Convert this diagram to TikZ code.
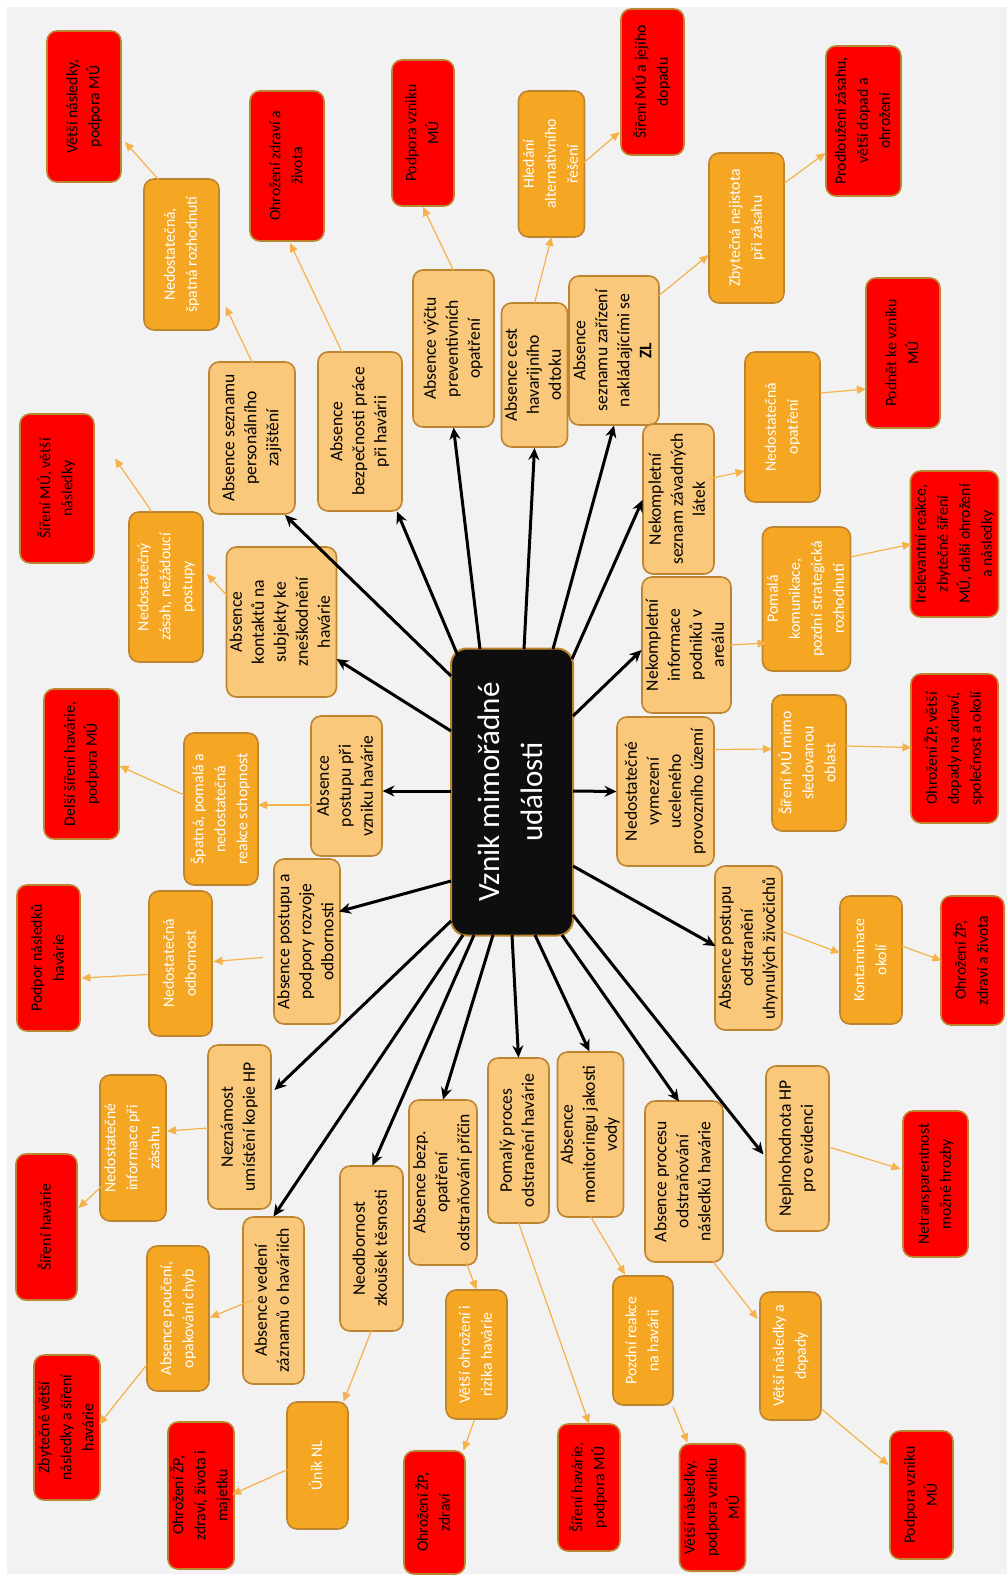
\documentclass[tikz,border=0pt]{standalone}
\usepackage{fontspec}
\setmainfont{Carlito}
\usetikzlibrary{calc,arrows.meta}
\definecolor{bg}{HTML}{F2F2F2}
\definecolor{lfill}{HTML}{FAC87A}
\definecolor{ofill}{HTML}{F5A623}
\definecolor{rfill}{HTML}{FF0000}
\definecolor{bord}{HTML}{BE8530}
\definecolor{oline}{HTML}{F6B24A}
\definecolor{cfill}{HTML}{0E0E0E}
\newcommand{\vt}[1]{\rotatebox{90}{\begin{tabular}{@{}c@{}}#1\end{tabular}}}
\newcommand{\NB}[6]{\node[#1, sz={#4}{#5}] (#2) at #3 {\vt{#6}};}
\newcommand{\con}[5]{\draw[#1] ($(#2)+#3$) -- ($(#4)+#5$);}
\begin{document}
\begin{tikzpicture}[x=0.5pt,y=-0.5pt,
 sz/.style 2 args={minimum width=#1*0.5pt, minimum height=#2*0.5pt},
 base/.style={draw=bord, line width=0.8pt, rounded corners=5pt, inner sep=0pt, outer sep=0pt},
 lbox/.style={base, fill=lfill, text=black, font=\fontsize{8.8}{11}\selectfont},
 obox/.style={base, fill=ofill, text=white, font=\fontsize{7.9}{11}\selectfont},
 rbox/.style={base, fill=rfill, text=black, font=\fontsize{7.9}{11}\selectfont},
 cbox/.style={draw=bord, fill=cfill, line width=1pt, rounded corners=8pt, inner sep=0pt, text=white, font=\fontsize{15.5}{21.5}\selectfont},
 barr/.style={draw=black, line width=1.5pt, -{Stealth[length=6pt,width=5.5pt]}},
 oarr/.style={draw=oline, line width=0.6pt, -{Triangle[length=4.5pt,width=4pt]}},
]
\useasboundingbox (0,0) rectangle (1007,1575);
\fill[bg] (7,7) rectangle (1007,1574);

% centre
\NB{cbox}{C}{(512,792)}{122}{287}{Vznik mimořádné\\události}

% light orange
\NB{lbox}{L1}{(252,438)}{86}{152}{Absence seznamu\\personálního\\zajištění}
\NB{lbox}{L2}{(360,431.5)}{84}{159}{Absence\\bezpečnosti práce\\při havárii}
\NB{lbox}{L3}{(453.5,348.5)}{81}{157}{Absence výčtu\\preventivních\\opatření}
\NB{lbox}{L4}{(534.5,375)}{63}{144}{Absence cest\\havarijního\\odtoku}
\NB{lbox}{L5}{(614,350.5)}{90}{149}{Absence\\seznamu zařízení\\nakládajícími se\\\textbf{ZL}}
\NB{lbox}{L6}{(678.5,499)}{71}{150}{Nekompletní\\seznam závadných\\látek}
\NB{lbox}{L7}{(686.5,645)}{89}{136}{Nekompletní\\informace\\podniků v\\areálu}
\NB{lbox}{L8}{(665.5,791.5)}{97}{149}{Nedostatečné\\vymezení\\uceleného\\provozního území}
\NB{lbox}{L9}{(748.5,948)}{67}{164}{Absence postupu\\odstranění\\uhynulých živočichů}
\NB{lbox}{L10}{(797.5,1148.5)}{63}{165}{Neplnohodnota HP\\pro evidenci}
\NB{lbox}{L11}{(684,1181.5)}{78}{161}{Absence procesu\\odstraňování\\následků havárie}
\NB{lbox}{L12}{(590.5,1134.5)}{63}{165}{Absence\\monitoringu jakosti\\vody}
\NB{lbox}{L13}{(518.5,1140.5)}{61}{165}{Pomalý proces\\odstranění havárie}
\NB{lbox}{L14}{(443,1182.5)}{68}{165}{Absence bezp.\\opatření\\odstraňování příčin}
\NB{lbox}{L15}{(371.5,1248.5)}{63}{165}{Neodbornost\\zkoušek těsnosti}
\NB{lbox}{L16}{(273.5,1300.5)}{61}{167}{Absence vedení\\záznamů o haváriích}
\NB{lbox}{L17}{(239.5,1127)}{63}{164}{Neznámost\\umístění kopie HP}
\NB{lbox}{L18}{(307,941.5)}{62}{165}{Absence postupu a\\podpory rozvoje\\odbornosti}
\NB{lbox}{L19}{(346.5,786)}{71}{140}{Absence\\postupu při\\vzniku havárie}
\NB{lbox}{L20}{(281.5,622)}{107}{150}{Absence\\kontaktů na\\subjekty ke\\zneškodnění\\havárie}

% orange
\NB{obox}{O1}{(181.5,254.5)}{75}{151}{Nedostatečná,\\špatná rozhodnutí}
\NB{obox}{O2}{(551.5,164)}{63}{146}{Hledání\\alternativního\\řešení}
\NB{obox}{O3}{(746.5,228)}{75}{150}{Zbytečná nejistota\\při zásahu}
\NB{obox}{O4}{(782.5,427)}{75}{150}{Nedostatečná\\opatření}
\NB{obox}{O5}{(806.5,599)}{81}{144}{Pomalá\\komunikace,\\pozdní strategická\\rozhodnutí}
\NB{obox}{O6}{(809,763)}{74}{136}{Šíření MÚ mimo\\sledovanou\\oblast}
\NB{obox}{O7}{(871,960)}{62}{128}{Kontaminace\\okolí}
\NB{obox}{O8}{(790.5,1356)}{61}{128}{Větší následky a\\dopady}
\NB{obox}{O9}{(643,1340.5)}{60}{129}{Pozdní reakce\\na havárii}
\NB{obox}{O10}{(476.5,1354.5)}{61}{129}{Větší ohrožení i\\rizika havárie}
\NB{obox}{O11}{(317.5,1465.5)}{61}{127}{Únik NL}
\NB{obox}{O12}{(178,1318.5)}{62}{145}{Absence poučení,\\opakování chyb}
\NB{obox}{O13}{(133,1148)}{62}{146}{Nedostatečné\\informace při\\zásahu}
\NB{obox}{O14}{(180.5,963.5)}{63}{145}{Nedostatečná\\odbornost}
\NB{obox}{O15}{(221,809)}{74}{152}{Špatná, pomalá a\\nedostatečná\\reakce schopnost}
\NB{obox}{O16}{(166,587)}{74}{150}{Nedostatečný\\zásah, nežádoucí\\postupy}

% red
\NB{rbox}{R1}{(84,106.5)}{74}{151}{Větší následky,\\podpora MÚ}
\NB{rbox}{R2}{(287,166)}{74}{150}{Ohrožení zdraví a\\života}
\NB{rbox}{R3}{(423,133)}{62}{146}{Podpora vzniku\\MÚ}
\NB{rbox}{R4}{(652.5,82)}{63}{146}{Šíření MÚ a jejího\\dopadu}
\NB{rbox}{R5}{(863.5,121)}{75}{150}{Prodloužení zásahu,\\větší dopad a\\ohrožení}
\NB{rbox}{R6}{(903,353)}{74}{150}{Podnět ke vzniku\\MÚ}
\NB{rbox}{R7}{(954.5,544)}{87}{146}{Irelevantní reakce,\\zbytečné šíření\\MÚ, další ohrožení\\a následky}
\NB{rbox}{R8}{(954.5,748.5)}{87}{149}{Ohrožení ŽP, větší\\dopady na zdraví,\\společnost a okolí}
\NB{rbox}{R9}{(972.5,960.5)}{63}{129}{Ohrožení ŽP,\\zdraví a života}
\NB{rbox}{R10}{(935.5,1184)}{65}{146}{Netransparentnost\\možné hrozby}
\NB{rbox}{R11}{(921.5,1495)}{63}{128}{Podpora vzniku\\MÚ}
\NB{rbox}{R12}{(712.5,1507.5)}{63}{127}{Větší následky,\\podpora vzniku\\MÚ}
\NB{rbox}{R13}{(589,1487.5)}{62}{127}{Šíření havárie,\\podpora MÚ}
\NB{rbox}{R14}{(434.5,1512.5)}{61}{123}{Ohrožení ŽP,\\zdraví}
\NB{rbox}{R15}{(201,1495.5)}{62}{147}{Ohrožení ŽP,\\zdraví, života i\\majetku}
\NB{rbox}{R16}{(67,1427.5)}{62}{145}{Zbytečné větší\\následky a šíření\\havárie}
\NB{rbox}{R17}{(46.5,1227)}{61}{146}{Šíření havárie}
\NB{rbox}{R18}{(48.5,958)}{63}{146}{Podpor následků\\havárie}
\NB{rbox}{R19}{(81.5,764)}{75}{150}{Delší šíření havárie,\\podpora MÚ}
\NB{rbox}{R20}{(57,488.5)}{74}{149}{Šíření MÚ, větší\\následky}

% black arrows
\con{barr}{C}{(-61,-61)}{L20}{(55,37)}
\con{barr}{C}{(-61,-116)}{L1}{(33,77)}
\con{barr}{C}{(-54,-136)}{L2}{(37,80)}
\con{barr}{C}{(-32,-143)}{L3}{(0,79)}
\con{barr}{C}{(12,-143)}{L4}{(0,73)}
\con{barr}{C}{(41,-143)}{L5}{(0,75)}
\con{barr}{C}{(60,-133)}{L6}{(-36,1)}
\con{barr}{C}{(61,-76)}{L7}{(-45,5)}
\con{barr}{C}{(61,-1)}{L8}{(-49,0)}
\con{barr}{C}{(-61,-1)}{L19}{(36,5)}
\con{barr}{C}{(-61,89)}{L18}{(32,-30)}
\con{barr}{C}{(-61,129)}{L17}{(35,-37)}
\con{barr}{C}{(-49,143)}{L16}{(0,-84)}
\con{barr}{C}{(-38,143)}{L15}{(1,-83)}
\con{barr}{C}{(-19,143)}{L14}{(0,-83)}
\con{barr}{C}{(0,143)}{L13}{(0,-83)}
\con{barr}{C}{(23,143)}{L12}{(-1,-83)}
\con{barr}{C}{(50,143)}{L11}{(-5,-80)}
\con{barr}{C}{(61,123)}{L10}{(-34,6)}
\con{barr}{C}{(61,74)}{L9}{(-33,-2)}

% orange arrows
\con{oarr}{L1}{(0,-76)}{O1}{(44,52)}
\con{oarr}{O1}{(-23,-75)}{R1}{(41,35.5)}
\con{oarr}{L2}{(-18,-79.5)}{R2}{(3,77)}
\con{oarr}{L3}{(0,-78)}{R3}{(0,74)}
\con{oarr}{L4}{(0,-72)}{O2}{(0,73)}
\con{oarr}{O2}{(32,-1)}{R4}{(-33,50)}
\con{oarr}{L5}{(45,-55)}{O3}{(-38,27)}
\con{oarr}{O3}{(38,-45)}{R5}{(-38,32)}
\con{oarr}{L6}{(30,-20)}{O4}{(-38,44)}
\con{oarr}{O4}{(38,-34)}{R6}{(-37,36)}
\con{oarr}{L7}{(44,0)}{O5}{(-40,44)}
\con{oarr}{O5}{(44,-42)}{R7}{(-43,0)}
\con{oarr}{L8}{(48,-42)}{O6}{(-37,-14)}
\con{oarr}{O6}{(37,-17)}{R8}{(-43,-1)}
\con{oarr}{L9}{(33,-17)}{O7}{(-31,-7)}
\con{oarr}{O7}{(31,-14)}{R9}{(-31,0)}
\con{oarr}{L10}{(33,-1)}{R10}{(-35,-15)}
\con{oarr}{L11}{(29,80)}{O8}{(-33,-37)}
\con{oarr}{O8}{(31,53)}{R11}{(-33,-30)}
\con{oarr}{L12}{(0,82)}{O9}{(-18,-66)}
\con{oarr}{O9}{(30,66)}{R12}{(-25,-65)}
\con{oarr}{L13}{(0,82)}{R13}{(0,-64)}
\con{oarr}{L14}{(23,80)}{O10}{(0,-65)}
\con{oarr}{O10}{(-2,65)}{R14}{(29,-62)}
\con{oarr}{L15}{(0,82)}{O11}{(26,-64)}
\con{oarr}{O11}{(-30,4)}{R15}{(31,-1)}
\con{oarr}{L16}{(-20,-1)}{O12}{(32,-1)}
\con{oarr}{O12}{(-31,46)}{R16}{(32,-3)}
\con{oarr}{L17}{(-31,1)}{O13}{(34,-17)}
\con{oarr}{O13}{(-30,37)}{R17}{(32,-19)}
\con{oarr}{L18}{(-44,16)}{O14}{(33,-2)}
\con{oarr}{O14}{(-33,11)}{R18}{(33,20)}
\con{oarr}{L19}{(-35,19)}{O15}{(37,-4)}
\con{oarr}{O15}{(-37,-14)}{R19}{(38,2)}
\con{oarr}{L20}{(-53,-25)}{O16}{(41,-13)}
\con{oarr}{O16}{(-14,-75)}{R20}{(58,-30)}
\end{tikzpicture}
\end{document}
